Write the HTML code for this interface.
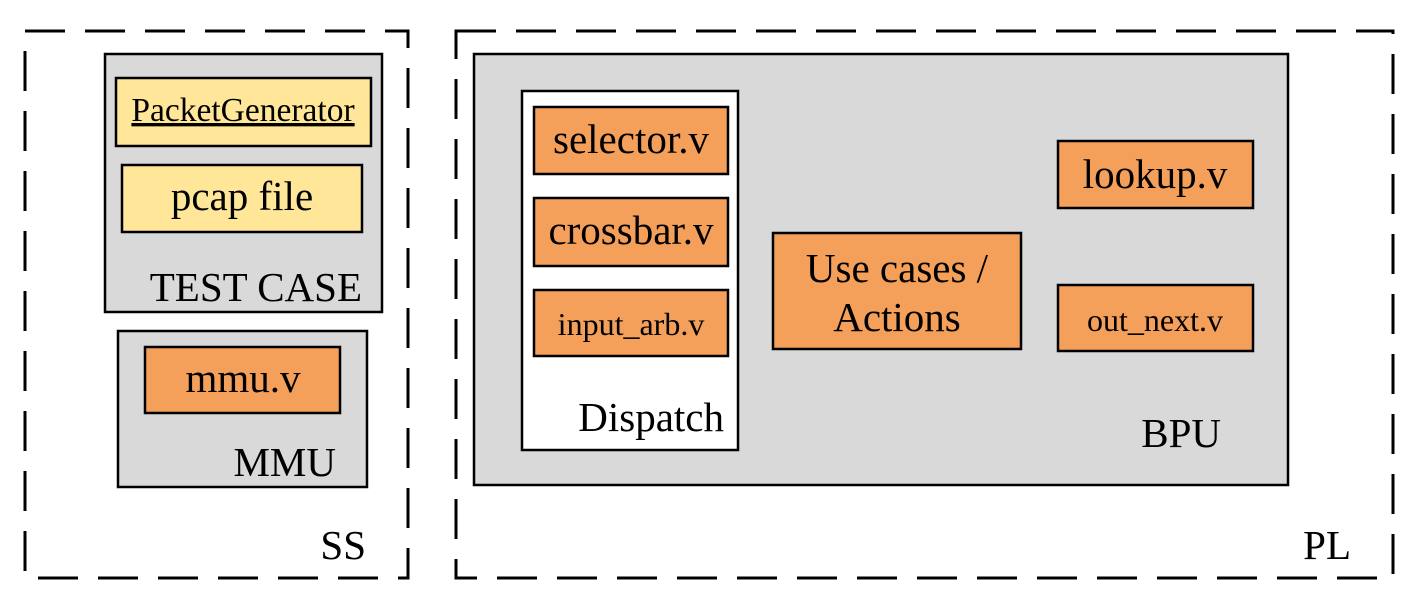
<!DOCTYPE html>
<html><head><style>html,body{margin:0;padding:0;background:#fff}svg{display:block}text{font-family:"Liberation Serif",serif;fill:#000}</style></head><body>
<svg width="1409" height="598" viewBox="0 0 1409 598" xmlns="http://www.w3.org/2000/svg">
<g fill="none" stroke="#000" stroke-width="3" stroke-dasharray="40,20">
<rect x="25" y="31" width="383" height="547"/>
<rect x="456" y="31" width="937" height="547"/>
</g>
<g stroke="#000" stroke-width="2.5">
<rect x="105" y="54" width="277" height="258" fill="#d9d9d9"/>
<rect x="116" y="78" width="255" height="68" fill="#ffe699"/>
<rect x="122" y="165" width="240" height="67" fill="#ffe699"/>
<rect x="118" y="331" width="249" height="156" fill="#d9d9d9"/>
<rect x="145" y="347" width="195" height="66" fill="#f4a05a"/>
<rect x="474" y="54" width="814" height="431" fill="#d9d9d9"/>
<rect x="522" y="91" width="216" height="359" fill="#fff"/>
<rect x="534" y="107" width="194" height="67" fill="#f4a05a"/>
<rect x="534" y="198" width="194" height="68" fill="#f4a05a"/>
<rect x="534" y="290" width="194" height="66" fill="#f4a05a"/>
<rect x="773" y="233" width="248" height="116" fill="#f4a05a"/>
<rect x="1058" y="141" width="195" height="67" fill="#f4a05a"/>
<rect x="1058" y="285" width="195" height="66" fill="#f4a05a"/>
</g>
<g text-anchor="middle">
<text x="243" y="121" font-size="33.5" text-decoration="underline">PacketGenerator</text>
<text x="242" y="210" font-size="41">pcap file</text>
<text x="243" y="392" font-size="41">mmu.v</text>
<text x="631" y="153" font-size="41">selector.v</text>
<text x="631" y="244" font-size="41">crossbar.v</text>
<text x="631" y="335" font-size="32">input_arb.v</text>
<text x="897" y="282" font-size="41">Use cases /</text>
<text x="897" y="331" font-size="41">Actions</text>
<text x="1155" y="188" font-size="41">lookup.v</text>
<text x="1155" y="331" font-size="32">out_next.v</text>
</g>
<g text-anchor="end" font-size="41">
<text x="362" y="301">TEST CASE</text>
<text x="336" y="476">MMU</text>
<text x="724" y="431">Dispatch</text>
<text x="1221" y="447">BPU</text>
<text x="366" y="559">SS</text>
<text x="1351" y="559">PL</text>
</g>
</svg>
</body></html>
